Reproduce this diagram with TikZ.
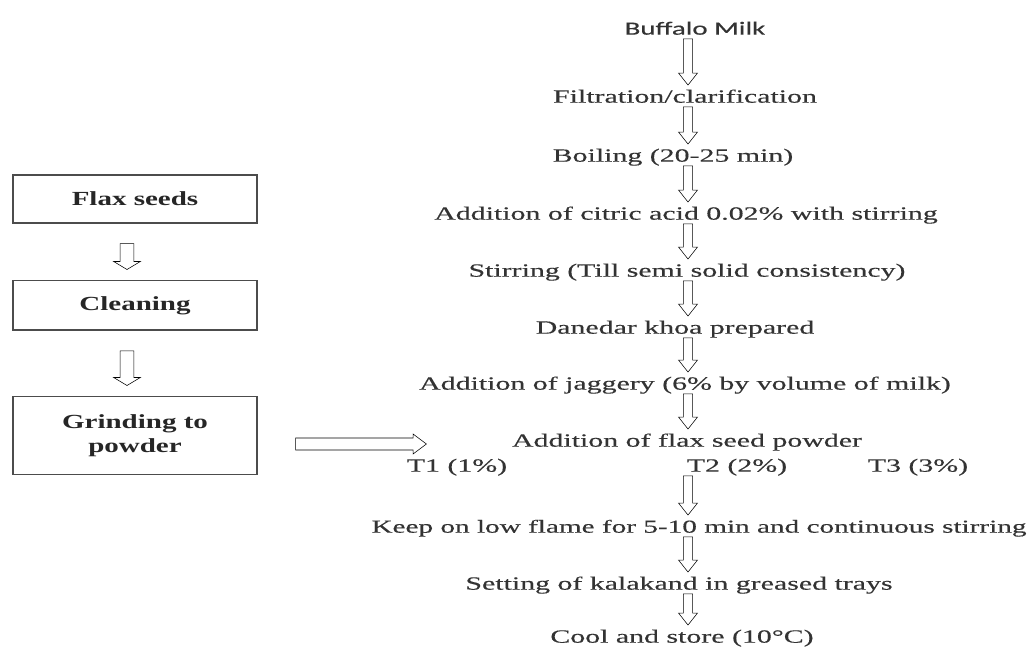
\documentclass[tikz,border=0pt]{standalone}
\usepackage{fontspec}
\setmainfont{Liberation Serif}[FakeStretch=1.6, FakeBold=0.35]
\newfontfamily\milkfont{Carlito}[FakeStretch=1.55, FakeBold=0.3]
\newfontfamily\boxfont{Liberation Serif}[FakeStretch=1.45]
\usetikzlibrary{calc}

\tikzset{
  stage/.style={font=\fontsize{14}{16}\selectfont, text=black!80,
                inner sep=0pt, text height=13pt, text depth=3pt},
  seedbox/.style={draw=black!70, line width=1pt, minimum width=183pt,
                  text=black!85, align=center,
                  font=\boxfont\fontsize{15}{18}\selectfont\bfseries},
  % hollow arrow of the main column
  hollowdown/.style={draw=black!75, line width=0.9pt, fill=white,
    to path={let \p1=(\tikztostart), \p2=(\tikztotarget) in
      (\x1-3.4pt,\y1) -- (\x1-3.4pt,\y2+9pt) -- (\x1-7.1pt,\y2+9pt) -- (\x1,\y2)
      -- (\x1+7.1pt,\y2+9pt) -- (\x1+3.4pt,\y2+9pt) -- (\x1+3.4pt,\y1) -- cycle}},
  % hollow arrow between the boxes
  hollowbox/.style={draw=black!75, line width=0.9pt, fill=white,
    to path={let \p1=(\tikztostart), \p2=(\tikztotarget) in
      (\x1-5.2pt,\y1-15pt) -- (\x1-5.2pt,\y2+14pt) -- (\x1-10pt,\y2+14pt) -- (\x1,\y2+8pt)
      -- (\x1+10pt,\y2+14pt) -- (\x1+5.2pt,\y2+14pt) -- (\x1+5.2pt,\y1-15pt) -- cycle}},
  % hollow arrow to the right
  hollowright/.style={draw=black!75, line width=0.9pt, fill=white,
    to path={let \p1=(\tikztostart), \p2=(\tikztotarget) in
      (\x1+28.5pt,\y2-7.5pt) -- (\x2-74pt,\y2-7.5pt) -- (\x2-74pt,\y2-10.5pt) -- (\x2-64pt,\y2-3pt)
      -- (\x2-74pt,\y2+4.5pt) -- (\x2-74pt,\y2+1.5pt) -- (\x1+28.5pt,\y2+1.5pt) -- cycle}},
}

\begin{document}
\begin{tikzpicture}[x=0.75pt, y=-0.75pt]
\useasboundingbox (0,0) rectangle (1031,655);
\coordinate (axis) at (688,0); % x of the main arrows
\coordinate (leftaxis) at (127,0); % x of the box arrows

% main column
\node[stage, font=\milkfont\fontsize{14}{16}\selectfont] (milk) at (695,28) {Buffalo Milk};
\node[stage] (filtr) at (685,96) {Filtration/clarification};
\node[stage] (boil) at (673,155) {Boiling (20-25 min)};
\node[stage] (citric) at (686,213) {Addition of citric acid 0.02\% with stirring};
\node[stage] (stir) at (687,270) {Stirring (Till semi solid consistency)};
\node[stage] (khoa) at (675,327) {Danedar khoa prepared};
\node[stage] (jaggery) at (685,383) {Addition of jaggery (6\% by volume of milk)};
\node[stage] (powder) at (687,440) {Addition of flax seed powder};
\node[stage] (tone) at (457,465) {T1 (1\%)};
\node[stage] (ttwo) at (737,465) {T2 (2\%)};
\node[stage] (tthree) at (918,465) {T3 (3\%)};
\node[stage, font=\fontsize{13.7}{16}\selectfont] (flame) at (699,526) {Keep on low flame for 5-10 min and continuous stirring};
\node[stage] (kalakand) at (679,583) {Setting of kalakand in greased trays};
\node[stage] (cool) at (682,636) {Cool and store (10°C)};

% flax seed boxes
\node[seedbox, minimum height=36pt] (flax) at (135,199) {Flax seeds};
\node[seedbox, minimum height=37pt] (clean) at (135,305.5) {Cleaning};
\node[seedbox, minimum height=58pt] (grind) at (135,435.5) {Grinding to\\powder};

\foreach \a/\b in {milk/filtr, filtr/boil, boil/citric, citric/stir, stir/khoa,
                   khoa/jaggery, jaggery/powder, ttwo/flame, flame/kalakand, kalakand/cool}
  \draw (\a.south -| axis) to[hollowdown] (\b.north -| axis);

\draw (flax.south -| leftaxis) to[hollowbox] (clean.north -| leftaxis);
\draw (clean.south -| leftaxis) to[hollowbox] (grind.north -| leftaxis);
\draw (grind.east) to[hollowright] (powder.west);

\end{tikzpicture}
\end{document}
